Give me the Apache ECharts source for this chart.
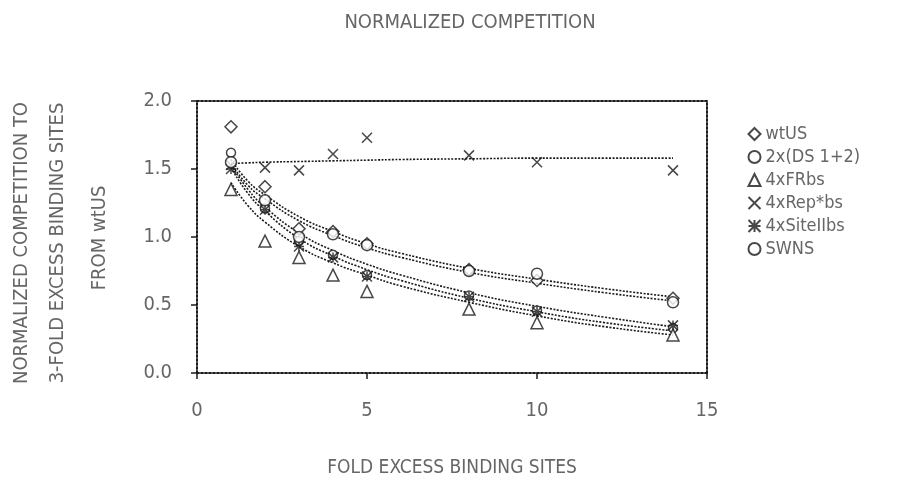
<!DOCTYPE html>
<html>
<head>
<meta charset="utf-8">
<script src="https://cdn.jsdelivr.net/npm/echarts@6/dist/echarts.min.js"></script>
<style>
  html, body { margin: 0; padding: 0; background: #fff; }
  #main { width: 900px; height: 487px; }
</style>
</head>
<body>
<div id="main"></div>
<script>
// measured points, [fold excess, normalized competition]
const wtUS = [[1, 1.81], [2, 1.37], [3, 1.06], [4, 1.04], [5, 0.95], [8, 0.76], [10, 0.68], [14, 0.55]];
const ds12 = [[1, 1.62], [2, 1.21], [3, 0.97], [4, 0.87], [5, 0.72], [8, 0.57], [10, 0.46], [14, 0.33]];
const frbs = [[1, 1.35], [2, 0.97], [3, 0.85], [4, 0.72], [5, 0.60], [8, 0.47], [10, 0.37], [14, 0.28]];
const repbs = [[1, 1.53], [2, 1.51], [3, 1.49], [4, 1.61], [5, 1.73], [8, 1.60], [10, 1.55], [14, 1.49]];
const siteIIbs = [[1, 1.50], [2, 1.20], [3, 0.93], [4, 0.85], [5, 0.71], [8, 0.56], [10, 0.45], [14, 0.35]];
const swns = [[1, 1.55], [2, 1.27], [3, 1.00], [4, 1.02], [5, 0.94], [8, 0.75], [10, 0.73], [14, 0.52]];

// fitted curves at these x
const fitX = [1, 1.5, 2, 3, 4, 5, 6, 8, 10, 12, 14];
const fitWtUS = [1.57, 1.41, 1.31, 1.15, 1.04, 0.95, 0.88, 0.77, 0.69, 0.62, 0.56];
const fitSWNS = [1.54, 1.38, 1.28, 1.12, 1.01, 0.92, 0.85, 0.74, 0.66, 0.59, 0.53];
const fitSiteII = [1.53, 1.35, 1.22, 1.03, 0.90, 0.80, 0.72, 0.59, 0.49, 0.41, 0.34];
const fitDS12 = [1.51, 1.32, 1.19, 0.99, 0.86, 0.76, 0.68, 0.55, 0.45, 0.37, 0.31];
const fitFRbs = [1.40, 1.23, 1.11, 0.93, 0.81, 0.72, 0.64, 0.52, 0.42, 0.34, 0.28];
const fitRep = [1.54, 1.545, 1.55, 1.555, 1.56, 1.565, 1.57, 1.575, 1.58, 1.58, 1.58];

const legendNames = ['wtUS', '2x(DS 1+2)', '4xFRbs', '4xRep*bs', '4xSiteIIbs', 'SWNS'];
const xTicks = [0, 5, 10, 15];
const yTicks = [0, 0.5, 1.0, 1.5, 2.0];

const FONT = "'DejaVu Sans Condensed', 'DejaVu Sans', sans-serif";
const TXT = '#666';
const INK = '#1a1a1a';

function pairs (xs, ys) {
  return xs.map((x, i) => [x, ys[i]]);
}

const hollow = { color: '#fff', borderColor: INK, borderWidth: 1.5 };
const stroke = { color: 'none', borderColor: INK, borderWidth: 1.5 };
const xPath = 'path://M0,0L10,10M10,0L0,10';
const starPath = 'path://M0,0L10,10M10,0L0,10M5,0L5,10M0,5L10,5';

function pointSeries (name, data, symbol, size, style) {
  return {
    name: name,
    type: 'scatter',
    data: data,
    symbol: symbol,
    symbolSize: size,
    itemStyle: style,
    z: 5
  };
}

function fitSeries (ys) {
  return {
    type: 'line',
    data: pairs(fitX, ys),
    smooth: true,
    showSymbol: false,
    silent: true,
    lineStyle: { color: INK, width: 1.6, type: [2, 1.5] },
    z: 3
  };
}

const axisLine = { show: true, onZero: false, lineStyle: { color: INK, width: 2, type: [2, 2] } };

const chart = echarts.init(document.getElementById('main'), null, { renderer: 'canvas' });
chart.setOption({
  animation: false,
  backgroundColor: '#fff',
  title: {
    text: 'NORMALIZED COMPETITION',
    left: 465,
    top: 8,
    textAlign: 'center',
    textStyle: { fontFamily: FONT, fontSize: 20, fontWeight: 'normal', color: TXT }
  },
  grid: { left: 197, right: 193, top: 101, bottom: 114 },
  legend: {
    data: legendNames,
    orient: 'vertical',
    left: 741,
    top: 120,
    itemGap: 5,
    itemWidth: 12,
    itemHeight: 12,
    textStyle: { fontFamily: FONT, fontSize: 18, color: TXT }
  },
  xAxis: [{
    type: 'value',
    min: xTicks[0],
    max: xTicks[xTicks.length - 1],
    interval: 5,
    name: 'FOLD EXCESS BINDING SITES',
    nameLocation: 'middle',
    nameGap: 86,
    nameTextStyle: { fontFamily: FONT, fontSize: 19, color: TXT },
    axisLine: axisLine,
    axisTick: { show: true, length: 6, lineStyle: { color: INK, width: 1.5 } },
    axisLabel: { fontFamily: FONT, fontSize: 20, color: TXT, margin: 28 },
    splitLine: { show: false }
  }, {
    type: 'value', position: 'top', min: 0, max: 15,
    axisLine: axisLine, axisTick: { show: false }, axisLabel: { show: false }, splitLine: { show: false }
  }],
  yAxis: [{
    type: 'value',
    min: yTicks[0],
    max: yTicks[yTicks.length - 1],
    interval: 0.5,
    axisLine: axisLine,
    axisTick: { show: true, length: 6, lineStyle: { color: INK, width: 1.5 } },
    axisLabel: { fontFamily: FONT, fontSize: 20, color: TXT, margin: 25, formatter: v => v.toFixed(1) },
    splitLine: { show: false }
  }, {
    type: 'value', position: 'right', min: 0, max: 2,
    axisLine: axisLine, axisTick: { show: false }, axisLabel: { show: false }, splitLine: { show: false }
  }],
  graphic: [
    { type: 'text', x: 22, y: 243, rotation: Math.PI / 2,
      style: { text: 'NORMALIZED COMPETITION TO', fill: TXT, font: '20px ' + FONT, align: 'center', verticalAlign: 'middle' } },
    { type: 'text', x: 58, y: 243, rotation: Math.PI / 2,
      style: { text: '3-FOLD EXCESS BINDING SITES', fill: TXT, font: '20px ' + FONT, align: 'center', verticalAlign: 'middle' } },
    { type: 'text', x: 100, y: 238, rotation: Math.PI / 2,
      style: { text: 'FROM wtUS', fill: TXT, font: '20px ' + FONT, align: 'center', verticalAlign: 'middle' } }
  ],
  series: [
    fitSeries(fitWtUS),
    fitSeries(fitSWNS),
    fitSeries(fitSiteII),
    fitSeries(fitDS12),
    fitSeries(fitFRbs),
    fitSeries(fitRep),
    pointSeries('wtUS', wtUS, 'diamond', 12, hollow),
    pointSeries('2x(DS 1+2)', ds12, 'circle', 9, hollow),
    pointSeries('4xFRbs', frbs, 'triangle', 12, hollow),
    pointSeries('4xRep*bs', repbs, xPath, 10, stroke),
    pointSeries('4xSiteIIbs', siteIIbs, starPath, 10, stroke),
    pointSeries('SWNS', swns, 'circle', 11, hollow)
  ]
});
</script>
</body>
</html>
